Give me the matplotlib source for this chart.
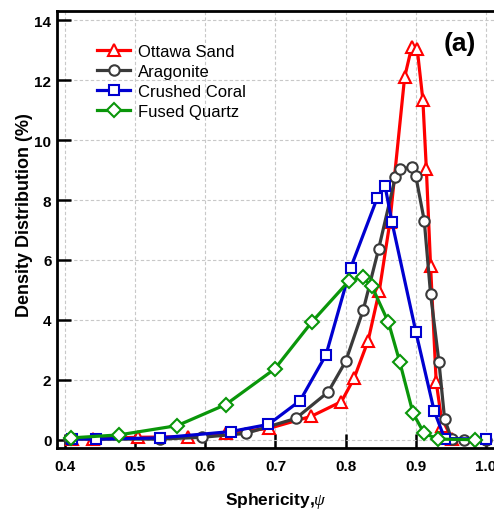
import matplotlib
matplotlib.use("Agg")
import matplotlib.pyplot as plt

plt.rcParams['font.family'] = ['Liberation Sans', 'DejaVu Sans']
plt.rcParams['mathtext.fontset'] = 'custom'
plt.rcParams['mathtext.it'] = 'Liberation Serif:italic'

# Ottawa Sand
ottawa_x = [0.41, 0.44, 0.504, 0.576, 0.630, 0.691, 0.751, 0.794, 0.812, 0.832,
            0.848, 0.863, 0.884, 0.894, 0.902, 0.910, 0.915, 0.921, 0.929, 0.938, 0.951]
ottawa_y = [0.05, 0.05, 0.09, 0.11, 0.22, 0.39, 0.79, 1.28, 2.06, 3.31,
            4.98, 7.26, 12.09, 13.09, 13.03, 11.34, 9.03, 5.81, 1.94, 0.46, 0.02]

# Aragonite
arag_x = [0.405, 0.535, 0.595, 0.658, 0.729, 0.775, 0.800, 0.825, 0.847, 0.871,
          0.877, 0.894, 0.900, 0.912, 0.921, 0.933, 0.941, 0.951, 0.968, 1.0]
arag_y = [0.03, 0.03, 0.09, 0.22, 0.72, 1.60, 2.62, 4.33, 6.37, 8.78,
          9.03, 9.09, 8.79, 7.31, 4.87, 2.59, 0.70, 0.03, 0.01, 0.01]

# Crushed Coral
coral_x = [0.41, 0.444, 0.535, 0.636, 0.690, 0.735, 0.772, 0.807, 0.845, 0.856,
           0.866, 0.900, 0.926, 0.941, 1.0]
coral_y = [0.04, 0.03, 0.07, 0.28, 0.52, 1.31, 2.84, 5.73, 8.07, 8.48,
           7.26, 3.61, 0.98, 0.05, 0.03]

# Fused Quartz
quartz_x = [0.4085, 0.477, 0.560, 0.629, 0.699, 0.752, 0.805, 0.824, 0.837, 0.861,
            0.877, 0.896, 0.912, 0.932, 0.985]
quartz_y = [0.07, 0.17, 0.48, 1.18, 2.37, 3.94, 5.31, 5.42, 5.14, 3.92,
            2.61, 0.89, 0.22, 0.03, 0.01]

labels = ['Ottawa Sand', 'Aragonite', 'Crushed Coral', 'Fused Quartz']
xticks = [0.4, 0.5, 0.6, 0.7, 0.8, 0.9, 1.0]
yticks = [0, 2, 4, 6, 8, 10, 12, 14]

fig = plt.figure(figsize=(4.94, 5.10), dpi=100)
ax = fig.add_axes([57/494, 61/510, 1 - 57/494, (498-61)/510])

series = [
    (ottawa_x, ottawa_y, '#ff0000', '^', 8.5),
    (arag_x, arag_y, '#3a3a3a', 'o', 7.5),
    (coral_x, coral_y, '#0000d0', 's', 7.2),
    (quartz_x, quartz_y, '#0a960a', 'D', 6.8),
]
for (xs, ys, c, m, ms), lab in zip(series, labels):
    ax.plot(xs, ys, color=c, lw=2.3, marker=m, ms=ms, mfc='white', mec=c,
            mew=1.5, label=lab)

ax.set_xlim(0.4 - 8/702, 1.0 + 8/702)
ax.set_ylim(-8/30, 14 + 9/30)
ax.set_xticks(xticks)
ax.set_xticklabels([f'{t:.1f}' for t in xticks])
ax.set_yticks(yticks)
ax.grid(True, color='#c8c8c8', ls=(0, (3, 2)), lw=0.8)
ax.set_axisbelow(True)

for s in ['left', 'bottom', 'top']:
    ax.spines[s].set_linewidth(2.0)
ax.spines['right'].set_visible(False)
ax.tick_params(axis='both', which='major', direction='in', length=10, width=1.8,
               labelsize=11)
ax.tick_params(axis='x', pad=8)
ax.tick_params(axis='y', pad=4)
for lbl in ax.get_xticklabels() + ax.get_yticklabels():
    lbl.set_fontweight('bold')

ax.set_xlabel(r'Sphericity,$\psi$', fontsize=12.5, fontweight='bold', labelpad=12)
ax.set_ylabel('Density Distribution (%)', fontsize=13, fontweight='bold')
ax.yaxis.set_label_coords(-0.055, 0.535)

ax.text(0.922, 0.927, '(a)', transform=ax.transAxes, fontsize=19,
        fontweight='bold', ha='center', va='center')

leg = ax.legend(loc='upper left', bbox_to_anchor=(40/437, 1 - 33/437),
                frameon=False, fontsize=12, handlelength=2.0, handletextpad=0.45,
                labelspacing=0.3, borderaxespad=0, borderpad=0)

fig.savefig('out.png', dpi=100)
